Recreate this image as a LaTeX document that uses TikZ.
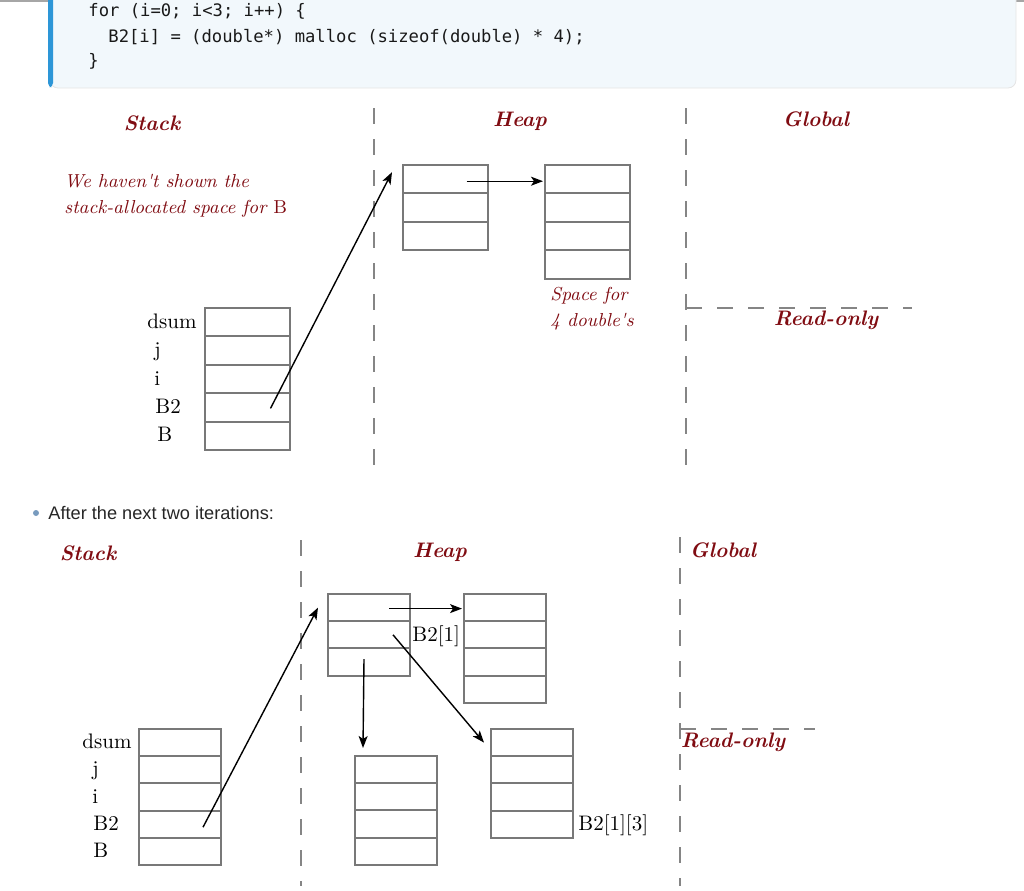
\documentclass[tikz,border=0pt]{standalone}
\usepackage{fontspec}
\newfontfamily\codefont{DejaVu Sans Mono}
\newfontfamily\slidefont{Liberation Sans}
\usetikzlibrary{positioning,calc,arrows.meta}
\definecolor{memred}{RGB}{128,12,18}
\definecolor{boxgray}{RGB}{120,120,120}
\definecolor{codebg}{RGB}{242,248,252}
\definecolor{codebar}{RGB}{45,150,215}
\definecolor{bulletblue}{RGB}{120,155,190}

\begin{document}
\begin{tikzpicture}[
x=0.5pt, y=-0.5pt,
% sloped,
cell/.style ={draw=boxgray, line width=1pt, minimum width=42.5pt, minimum height=14.2pt, inner sep=0pt, outer sep=0pt},
cellb/.style ={cell, minimum width=41pt, minimum height=13.6pt},
region/.style ={text=memred, font=\fontsize{10.5}{12}\selectfont\bfseries\itshape},
note/.style ={text=memred, font=\fontsize{9.4}{13}\selectfont\itshape, align=left, inner sep=0pt},
var/.style ={font=\fontsize{10.5}{12}\selectfont, text height=7.5pt, text depth=1.5pt, inner sep=0pt},
code/.style ={font=\codefont\fontsize{8.6}{10}\selectfont, text=black!90, inner sep=0pt},
divider/.style ={draw=boxgray!90, line width=1pt, dash pattern=on 8pt off 7.5pt},
ptr/.style ={-{Stealth[length=6pt,width=4.5pt,inset=1.5pt]}, line width=0.7pt}
]
\useasboundingbox (0,0) rectangle (1024,890);

% code listing
\draw[black!35, line width=1pt] (0,1) -- (1024,1);
\fill[codebg, draw=black!10, rounded corners=4pt] (50,-10) rectangle (1016,88);
\fill[codebar, rounded corners=2pt] (48,-10) rectangle (53,87);
\node[code, anchor=base west] (line1) at (88,16) {for (i=0; i<3; i++) \{};
\node[code, anchor=base west] (line2) at (108,42) {B2[i] = (double*) malloc (sizeof(double) * 4);};
\node[code, anchor=base west] (line3) at (88,66) {\}};

% ---- first picture ----
\node[region] (tstack) at (152,123) {Stack};
\node[region] (theap) at (520,121) {Heap};
\node[region] (tglobal) at (816,119) {Global};
\node[region] (treadonly) at (826,320) {Read-only};

\coordinate (tdiv1-top) at (374,108);
\coordinate (tdiv1-bot) at (374,470);
\coordinate (tdiv2-top) at (686,108);
\coordinate (tdiv2-bot) at (686,470);
\coordinate (tro-left) at (686,308);
\coordinate (tro-right) at (912,308);
\draw[divider] (tdiv1-top) -- (tdiv1-bot);
\draw[divider] (tdiv2-top) -- (tdiv2-bot);
\draw[divider] (tro-left) -- (tro-right);

\node[note, anchor=west] (tnote) at (64,196) {We haven\textquotesingle t shown the\\stack-allocated space for {\upshape B}};

% stack frame
\node[cell, anchor=north west] (ts1) at (205,308) {};
\node[cell, below=0pt of ts1] (ts2) {};
\node[cell, below=0pt of ts2] (ts3) {};
\node[cell, below=0pt of ts3] (ts4) {};
\node[cell, below=0pt of ts4] (ts5) {};
\node[var, anchor=east] (tl-dsum) at ($(ts1.west)+(-8,0)$) {dsum};
\node[var, anchor=west] (tl-j) at ($(ts2.west)+(-51,0)$) {j};
\node[var, anchor=west] (tl-i) at ($(ts3.west)+(-51,0)$) {i};
\node[var, anchor=west] (tl-B2) at ($(ts4.west)+(-50,0)$) {B2};
\node[var, anchor=west] (tl-B) at ($(ts5.west)+(-48,0)$) {B};

% heap blocks
\node[cell, anchor=north west] (tha1) at (403,165) {};
\node[cell, below=0pt of tha1] (tha2) {};
\node[cell, below=0pt of tha2] (tha3) {};

\node[cell, anchor=north west] (thb1) at (545,165) {};
\node[cell, below=0pt of thb1] (thb2) {};
\node[cell, below=0pt of thb2] (thb3) {};
\node[cell, below=0pt of thb3] (thb4) {};
\node[note, anchor=north west] (tspace) at ($(thb4.south west)+(5,8)$) {Space for\\4 double\textquotesingle s};

\draw[ptr] ($(ts4.center)+(23,1)$) -- ($(tha1.west)+(-11,-7)$);
\draw[ptr] ($(tha1.center)+(21,2)$) -- ($(thb1.west)+(-2,2)$);

% ---- second picture ----
\node[circle, fill=bulletblue, inner sep=0pt, minimum size=3pt] (bullet) at (36,513) {};
\node[font=\slidefont\fontsize{9.1}{11}\selectfont, text=black!85, anchor=west, inner sep=0pt] (after) at (48,513) {After the next two iterations:};

\node[region] (bstack) at (88,553) {Stack};
\node[region] (bheap) at (440,552) {Heap};
\node[region] (bglobal) at (723,550) {Global};
\node[region] (breadonly) at (733,742) {Read-only};

\coordinate (bdiv1-top) at (301,540);
\coordinate (bdiv1-bot) at (301,886);
\coordinate (bdiv2-top) at (680,537);
\coordinate (bdiv2-bot) at (680,886);
\coordinate (bro-left) at (680,729);
\coordinate (bro-right) at (815,729);
\draw[divider] (bdiv1-top) -- (bdiv1-bot);
\draw[divider] (bdiv2-top) -- (bdiv2-bot);
\draw[divider] (bro-left) -- (bro-right);

% stack frame
\node[cellb, anchor=north west] (bs1) at (139,729) {};
\node[cellb, below=0pt of bs1] (bs2) {};
\node[cellb, below=0pt of bs2] (bs3) {};
\node[cellb, below=0pt of bs3] (bs4) {};
\node[cellb, below=0pt of bs4] (bs5) {};
\node[var, anchor=east] (bl-dsum) at ($(bs1.west)+(-7,0)$) {dsum};
\node[var, anchor=west] (bl-j) at ($(bs2.west)+(-47,0)$) {j};
\node[var, anchor=west] (bl-i) at ($(bs3.west)+(-47,0)$) {i};
\node[var, anchor=west] (bl-B2) at ($(bs4.west)+(-46,0)$) {B2};
\node[var, anchor=west] (bl-B) at ($(bs5.west)+(-46,0)$) {B};

% heap blocks
\node[cellb, anchor=north west] (bha1) at (328,594) {};
\node[cellb, below=0pt of bha1] (bha2) {};
\node[cellb, below=0pt of bha2] (bha3) {};
\node[var, anchor=west] (bl-row) at ($(bha2.east)+(2,1)$) {B2[1]};

\node[cellb, anchor=north west] (bhb1) at (464,594) {};
\node[cellb, below=0pt of bhb1] (bhb2) {};
\node[cellb, below=0pt of bhb2] (bhb3) {};
\node[cellb, below=0pt of bhb3] (bhb4) {};

\node[cellb, anchor=north west] (bhc1) at (355,756) {};
\node[cellb, below=0pt of bhc1] (bhc2) {};
\node[cellb, below=0pt of bhc2] (bhc3) {};
\node[cellb, below=0pt of bhc3] (bhc4) {};

\node[cellb, anchor=north west] (bhd1) at (491,729) {};
\node[cellb, below=0pt of bhd1] (bhd2) {};
\node[cellb, below=0pt of bhd2] (bhd3) {};
\node[cellb, below=0pt of bhd3] (bhd4) {};
\node[var, anchor=west] (bl-elem) at ($(bhd4.east)+(5,0)$) {B2[1][3]};

\draw[ptr] ($(bs4.center)+(23,3)$) -- ($(bha1.west)+(-10,0)$);
\draw[ptr] ($(bha1.center)+(20,1)$) -- ($(bhb1.west)+(-2,1)$);
\draw[ptr] ($(bha3.center)+(-5,-3)$) -- ($(bhc1.north)+(-33,-8)$);
\draw[ptr] ($(bha2.center)+(24,0)$) -- ($(bhd1.west)+(-7,0)$);
\end{tikzpicture}
\end{document}
